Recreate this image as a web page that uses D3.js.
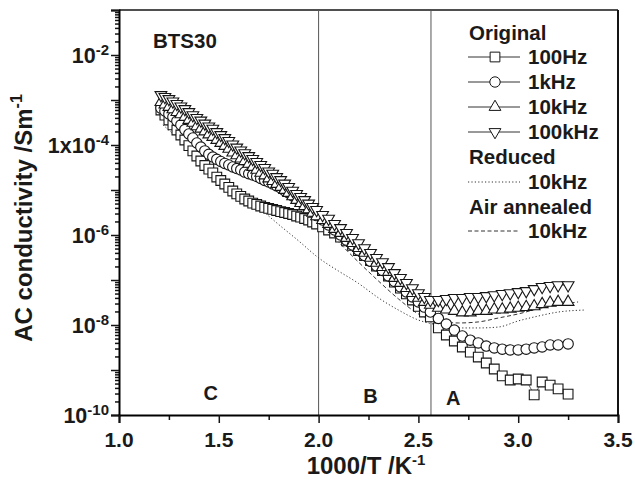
<!DOCTYPE html>
<html>
<head>
<meta charset="utf-8">
<script src="https://cdn.jsdelivr.net/npm/d3@7"></script>
<style>
body { margin: 0; background: #fff; }
svg { display: block; }
text { font-family: "Liberation Sans", Arial, Helvetica, sans-serif; font-weight: bold; fill: #1a1a1a; }
</style>
</head>
<body>
<svg id="chart" width="635" height="484"></svg>
<script>

// 1000/T values shared by the four "Original" frequency series
var invT = [1.21, 1.23, 1.25, 1.27, 1.29, 1.31, 1.33, 1.35, 1.37, 1.39,
            1.41, 1.43, 1.45, 1.47, 1.49, 1.51, 1.53, 1.55, 1.57, 1.59,
            1.61, 1.63, 1.65, 1.67, 1.69, 1.71, 1.73, 1.75, 1.77, 1.79,
            1.81, 1.83, 1.85, 1.87, 1.89, 1.91, 1.93, 1.95, 1.97, 1.99,
            2.02, 2.05, 2.08, 2.11, 2.14, 2.17, 2.20, 2.23, 2.26, 2.29,
            2.32, 2.35, 2.38, 2.41, 2.44, 2.47, 2.50, 2.53, 2.56,
            2.60, 2.64, 2.68, 2.72, 2.76, 2.80, 2.84, 2.88, 2.92, 2.96,
            3.00, 3.04, 3.08, 3.12, 3.16, 3.20, 3.25];

var orig100Hz = [6.0e-4, 4.6e-4, 3.6e-4, 2.8e-4, 2.15e-4, 1.67e-4, 1.29e-4, 9.7e-5, 7.4e-5, 5.7e-5,
                 4.4e-5, 3.5e-5, 2.9e-5, 2.4e-5, 1.94e-5, 1.63e-5, 1.36e-5, 1.14e-5, 9.5e-6, 8.2e-6,
                 7.2e-6, 6.3e-6, 5.7e-6, 5.1e-6, 4.8e-6, 4.4e-6, 4.1e-6, 3.9e-6, 3.7e-6, 3.5e-6,
                 3.3e-6, 3.16e-6, 3.0e-6, 2.86e-6, 2.64e-6, 2.5e-6, 2.33e-6, 2.15e-6, 1.94e-6, 1.76e-6,
                 1.51e-6, 1.29e-6, 1.11e-6, 9.0e-7, 7.4e-7, 5.9e-7, 4.5e-7, 3.5e-7, 2.7e-7, 2.05e-7,
                 1.63e-7, 1.23e-7, 9.0e-8, 6.6e-8, 4.9e-8, 3.6e-8, 2.6e-8, 1.94e-8, 1.51e-8,
                 8.6e-9, 6.0e-9, 4.4e-9, 3.25e-9, 2.5e-9, 1.94e-9, 1.43e-9, 1.05e-9, 7.4e-10, 6.0e-10,
                 6.3e-10, 6.0e-10, 2.8e-10, 5.4e-10, 4.6e-10, 3.8e-10, 2.9e-10];

var orig1kHz = [6.6e-4, 5.7e-4, 4.9e-4, 4.2e-4, 3.4e-4, 2.8e-4, 2.2e-4, 1.76e-4, 1.43e-4, 1.11e-4,
                9.0e-5, 7.4e-5, 6.2e-5, 5.4e-5, 4.8e-5, 4.3e-5, 3.9e-5, 3.6e-5, 3.25e-5, 3.0e-5,
                2.8e-5, 2.5e-5, 2.3e-5, 2.15e-5, 2.0e-5, 1.8e-5, 1.63e-5, 1.51e-5, 1.36e-5, 1.23e-5,
                1.11e-5, 9.7e-6, 8.6e-6, 7.4e-6, 6.3e-6, 5.4e-6, 4.6e-6, 3.9e-6, 3.25e-6, 2.7e-6,
                2.15e-6, 1.67e-6, 1.29e-6, 1.0e-6, 7.7e-7, 6.0e-7, 4.6e-7, 3.5e-7, 2.6e-7, 2.05e-7,
                1.63e-7, 1.23e-7, 9.3e-8, 7.0e-8, 5.4e-8, 4.2e-8, 3.25e-8, 2.5e-8, 1.94e-8,
                1.4e-8, 1.05e-8, 7.7e-9, 5.7e-9, 4.6e-9, 4.0e-9, 3.4e-9, 3.1e-9, 2.9e-9, 2.8e-9,
                2.8e-9, 2.9e-9, 3.1e-9, 3.25e-9, 3.6e-9, 3.6e-9, 3.8e-9];

var orig10kHz = [9.0e-4, 7.9e-4, 7.0e-4, 6.2e-4, 5.4e-4, 4.8e-4, 4.2e-4, 3.6e-4, 3.1e-4, 2.6e-4,
                 2.3e-4, 2.0e-4, 1.71e-4, 1.51e-4, 1.29e-4, 1.11e-4, 9.5e-5, 8.2e-5, 6.8e-5, 5.9e-5,
                 5.0e-5, 4.4e-5, 3.8e-5, 3.25e-5, 2.8e-5, 2.4e-5, 2.1e-5, 1.8e-5, 1.58e-5, 1.36e-5,
                 1.17e-5, 1.0e-5, 8.6e-6, 7.2e-6, 6.0e-6, 5.1e-6, 4.4e-6, 3.7e-6, 3.1e-6, 2.6e-6,
                 2.15e-6, 1.76e-6, 1.36e-6, 1.11e-6, 8.6e-7, 6.6e-7, 5.1e-7, 4.0e-7, 3.1e-7, 2.4e-7,
                 1.94e-7, 1.51e-7, 1.11e-7, 8.6e-8, 6.6e-8, 5.1e-8, 4.0e-8, 3.25e-8, 2.8e-8,
                 2.4e-8, 2.2e-8, 2.05e-8, 1.9e-8, 1.9e-8, 2.05e-8, 2.05e-8, 2.2e-8, 2.2e-8, 2.3e-8,
                 2.4e-8, 2.5e-8, 2.6e-8, 2.9e-8, 3.1e-8, 3.25e-8, 3.25e-8];

var orig100kHz = [1.29e-3, 1.17e-3, 1.05e-3, 9.3e-4, 8.2e-4, 7.2e-4, 6.3e-4, 5.4e-4, 4.6e-4, 4.0e-4,
                  3.5e-4, 3.0e-4, 2.6e-4, 2.3e-4, 1.94e-4, 1.67e-4, 1.43e-4, 1.23e-4, 1.03e-4, 8.8e-5,
                  7.6e-5, 6.6e-5, 5.7e-5, 4.9e-5, 4.2e-5, 3.6e-5, 3.1e-5, 2.6e-5, 2.3e-5, 1.94e-5,
                  1.67e-5, 1.39e-5, 1.17e-5, 9.7e-6, 8.2e-6, 7.0e-6, 6.0e-6, 5.0e-6, 4.2e-6, 3.6e-6,
                  2.8e-6, 2.3e-6, 1.76e-6, 1.43e-6, 1.11e-6, 8.6e-7, 6.6e-7, 5.1e-7, 4.0e-7, 3.1e-7,
                  2.5e-7, 1.94e-7, 1.43e-7, 1.11e-7, 8.6e-8, 6.6e-8, 5.1e-8, 4.2e-8, 3.6e-8,
                  3.6e-8, 3.8e-8, 4.0e-8, 4.0e-8, 4.2e-8, 4.2e-8, 4.4e-8, 4.6e-8, 4.9e-8, 5.1e-8,
                  5.4e-8, 5.7e-8, 6.3e-8, 7.0e-8, 7.4e-8, 7.7e-8, 7.7e-8];

// Reduced sample, 10kHz (dotted)
var reducedT = [1.22, 1.3, 1.4, 1.5, 1.6, 1.7, 1.8, 1.9, 2.0, 2.1, 2.2,
                2.3, 2.4, 2.5, 2.6, 2.7, 2.8, 2.9, 3.0, 3.1, 3.2, 3.33];
var reduced10kHz = [2.8e-4, 1.36e-4, 5.7e-5, 2.4e-5, 1.0e-5, 4.1e-6, 1.71e-6, 7.4e-7, 3.1e-7, 1.58e-7, 8.4e-8,
                    4.0e-8, 2.15e-8, 1.29e-8, 1.0e-8, 8.6e-9, 8.6e-9, 9.0e-9, 1.23e-8, 1.58e-8, 1.94e-8, 2.15e-8];

// Air annealed sample, 10kHz (dashed)
var annealedT = [1.22, 1.4, 1.6, 1.8, 2.0, 2.1, 2.2, 2.3, 2.4,
                 2.5, 2.6, 2.7, 2.8, 2.9, 3.0, 3.1, 3.2, 3.3];
var annealed10kHz = [8.2e-4, 2.4e-4, 5.1e-5, 1.29e-5, 2.15e-6, 7.0e-7, 2.5e-7, 9.5e-8, 3.8e-8,
                     1.76e-8, 1.23e-8, 1.11e-8, 1.17e-8, 1.43e-8, 1.76e-8, 2.3e-8, 2.8e-8, 3.25e-8];

var xTickValues = [1.0, 1.5, 2.0, 2.5, 3.0, 3.5];
var xTickLabels = ["1.0", "1.5", "2.0", "2.5", "3.0", "3.5"];
var xMinorValues = [1.25, 1.75, 2.25, 2.75, 3.25];
var yLabelValues = [1e-10, 1e-8, 1e-6, 1e-4, 1e-2];
var yLabelBase = ["10", "10", "10", "1x10", "10"];
var yLabelExp = ["-10", "-8", "-6", "-4", "-2"];

var regionBounds = [2.0, 2.563];
var regionNames = ["C", "B", "A"];
var regionX = [1.46, 2.26, 2.675];

var legendText = ["Original", "100Hz", "1kHz", "10kHz", "100kHz", "Reduced", "10kHz", "Air annealed", "10kHz"];

var svg = d3.select('#chart');

var x = d3.scaleLinear().domain([1.0, 3.5]).range([119, 618]);
var y = d3.scaleLog().domain([1e-10, 1e-1]).range([415, 10]);

var ink = '#141414';
var markStroke = '#151515';

// frame
svg.append('line').attr('x1', 119).attr('x2', 618).attr('y1', 10).attr('y2', 10)
    .attr('stroke', ink).attr('stroke-width', 1.5);
svg.append('line').attr('x1', 618).attr('x2', 618).attr('y1', 10).attr('y2', 415)
    .attr('stroke', ink).attr('stroke-width', 2);

// region separators
svg.selectAll('.bound').data(regionBounds).enter().append('line')
    .attr('class', 'bound')
    .attr('x1', function(d) { return x(d); })
    .attr('x2', function(d) { return x(d); })
    .attr('y1', 10).attr('y2', 415)
    .attr('stroke', '#555').attr('stroke-width', 1);

// y axis: minor and major ticks
var yAll = y.ticks();
var yMinor = yAll.filter(function(v) { return Math.abs(Math.log10(v) - Math.round(Math.log10(v))) > 1e-6; });
var yMajor = yAll.filter(function(v) { return Math.abs(Math.log10(v) - Math.round(Math.log10(v))) <= 1e-6; });

svg.append('g').attr('transform', 'translate(119,0)')
    .call(d3.axisLeft(y).tickValues(yMinor).tickSize(4).tickFormat(''))
    .call(function(g) { g.select('.domain').remove(); });
svg.append('g').attr('transform', 'translate(119,0)')
    .call(d3.axisLeft(y).tickValues(yMajor).tickSize(8).tickFormat(''))
    .call(function(g) { g.select('.domain').attr('stroke-width', 2); });

svg.append('g').attr('transform', 'translate(0,415)')
    .call(d3.axisBottom(x).tickValues(xMinorValues).tickSize(5).tickFormat(''))
    .call(function(g) { g.select('.domain').remove(); });
svg.append('g').attr('transform', 'translate(0,415)')
    .call(d3.axisBottom(x).tickValues(xTickValues).tickSize(8).tickFormat(''))
    .call(function(g) { g.select('.domain').attr('stroke-width', 2); });

svg.selectAll('.tick line').attr('stroke', ink).attr('stroke-width', 1.5);

// tick labels
svg.selectAll('.xlab').data(xTickValues).enter().append('text')
    .attr('class', 'xlab')
    .attr('x', function(d) { return x(d); })
    .attr('y', 447)
    .attr('text-anchor', 'middle')
    .attr('font-size', 21)
    .text(function(d, i) { return xTickLabels[i]; });

yLabelValues.forEach(function(v, i) {
    var t = svg.append('text')
        .attr('x', 109)
        .attr('y', y(v) + 8)
        .attr('text-anchor', 'end')
        .attr('font-size', 21.5);
    t.append('tspan').text(yLabelBase[i]);
    t.append('tspan').attr('dy', -8).attr('font-size', 15).text(yLabelExp[i]);
});

// axis titles
var xt = svg.append('text').attr('x', 366).attr('y', 474)
    .attr('text-anchor', 'middle').attr('font-size', 24);
xt.append('tspan').text('1000/T /K');
xt.append('tspan').attr('dy', -9).attr('font-size', 15).text('-1');

var yt = svg.append('text')
    .attr('transform', 'translate(32,218) rotate(-90)')
    .attr('text-anchor', 'middle').attr('font-size', 24);
yt.append('tspan').text('AC conductivity /Sm');
yt.append('tspan').attr('dy', -10).attr('font-size', 16).text('-1');

// sample label and region letters
svg.append('text').attr('x', 153).attr('y', 48).attr('font-size', 20.5).text('BTS30');

svg.selectAll('.region').data(regionNames).enter().append('text')
    .attr('class', 'region')
    .attr('x', function(d, i) { return x(regionX[i]); })
    .attr('y', function(d, i) { return [400, 403, 405][i]; })
    .attr('text-anchor', 'middle')
    .attr('font-size', 20)
    .text(function(d) { return d; });

// lines for reduced / air annealed
var smooth = d3.line()
    .x(function(d) { return x(d[0]); })
    .y(function(d) { return y(d[1]); })
    .curve(d3.curveMonotoneX);

svg.append('path')
    .attr('d', smooth(d3.zip(reducedT, reduced10kHz)))
    .attr('fill', 'none').attr('stroke', '#333').attr('stroke-width', 1)
    .attr('stroke-dasharray', '1.2,2.2');

svg.append('path')
    .attr('d', smooth(d3.zip(annealedT, annealed10kHz)))
    .attr('fill', 'none').attr('stroke', '#333').attr('stroke-width', 1)
    .attr('stroke-dasharray', '4,2.5');

// original series
var series = [
    { values: orig100Hz,  type: d3.symbolSquare,   size: 95, rot: 0 },
    { values: orig1kHz,   type: d3.symbolCircle,   size: 85, rot: 0 },
    { values: orig10kHz,  type: d3.symbolTriangle, size: 60, rot: 0 },
    { values: orig100kHz, type: d3.symbolTriangle, size: 60, rot: 180 }
];

var straight = d3.line()
    .x(function(d) { return x(d[0]); })
    .y(function(d) { return y(d[1]); });

series.forEach(function(s) {
    svg.append('path')
        .attr('d', straight(d3.zip(invT, s.values)))
        .attr('fill', 'none').attr('stroke', '#444').attr('stroke-width', 0.8);
});

series.forEach(function(s) {
    var sym = d3.symbol().type(s.type).size(s.size);
    svg.append('g').selectAll('path')
        .data(d3.zip(invT, s.values))
        .enter().append('path')
        .attr('d', sym)
        .attr('transform', function(d) {
            return 'translate(' + x(d[0]) + ',' + y(d[1]) + ') rotate(' + s.rot + ')';
        })
        .attr('fill', '#fff')
        .attr('stroke', markStroke)
        .attr('stroke-width', 1.1);
});

// legend
var legX0 = 468, legX1 = 520, legMid = 495, legTextX = 528;
var rowY = [33, 57, 82, 107, 132, 157, 182, 207, 231];

legendText.forEach(function(t, i) {
    var isHead = (i === 0 || i === 5 || i === 7);
    svg.append('text')
        .attr('x', isHead ? 469 : legTextX)
        .attr('y', rowY[i] + 7)
        .attr('font-size', 20.5)
        .text(t);
});

for (var k = 0; k < 4; k++) {
    var ly = rowY[k + 1];
    svg.append('line').attr('x1', legX0).attr('x2', legX1).attr('y1', ly).attr('y2', ly)
        .attr('stroke', '#333').attr('stroke-width', 1);
    svg.append('path')
        .attr('d', d3.symbol().type(series[k].type).size(series[k].size)())
        .attr('transform', 'translate(' + legMid + ',' + ly + ') rotate(' + series[k].rot + ')')
        .attr('fill', '#fff').attr('stroke', markStroke).attr('stroke-width', 1);
}

svg.append('line').attr('x1', legX0).attr('x2', legX1).attr('y1', rowY[6]).attr('y2', rowY[6])
    .attr('stroke', '#333').attr('stroke-width', 1).attr('stroke-dasharray', '1.2,2.2');
svg.append('line').attr('x1', legX0).attr('x2', legX1).attr('y1', rowY[8]).attr('y2', rowY[8])
    .attr('stroke', '#333').attr('stroke-width', 1).attr('stroke-dasharray', '4,2.5');

</script>
</body>
</html>
